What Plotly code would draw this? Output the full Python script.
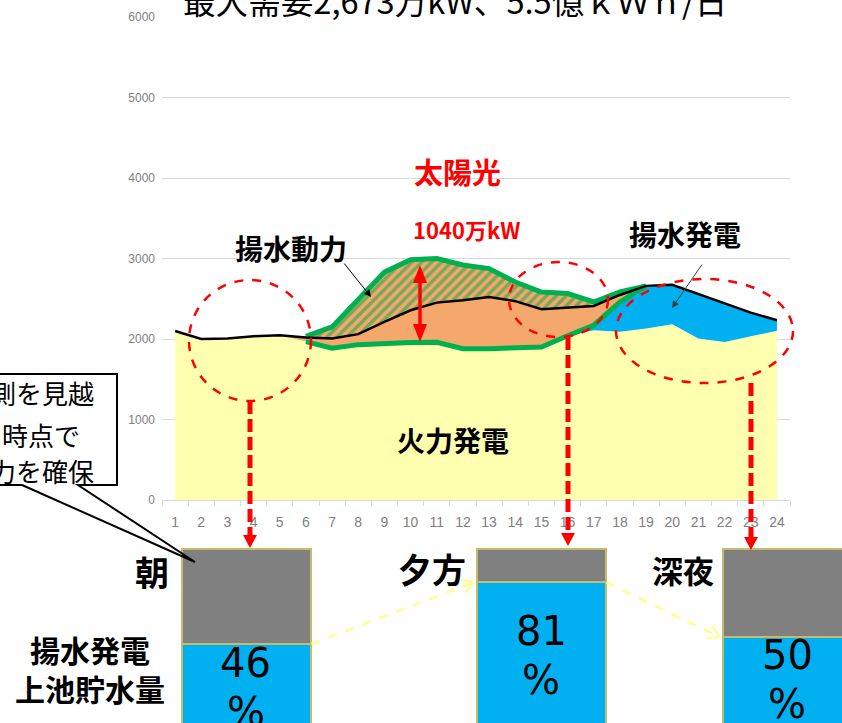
import math
import numpy as np
import plotly.graph_objects as go

W, H = 842, 723

# ---------------- data ----------------
hours = [str(h) for h in range(1, 25)]

# hourly demand and supply components (万kW)
demand = [2100, 2000, 2006, 2035, 2047, 2018, 2006, 2060, 2213, 2357, 2452, 2481,
          2522, 2470, 2370, 2390, 2411, 2547, 2660, 2673, 2561, 2447, 2328, 2233]
thermal = [2100, 2000, 2006, 2035, 2047, 1968, 1885, 1930, 1950, 1955, 1960, 1880,
           1880, 1890, 1900, 2040, 2109, 2089, 2130, 2184, 2006, 1964, 2035, 2101]
pumped_gen = [0, 0, 0, 0, 0, 0, 0, 0, 0, 0, 0, 0,
              0, 0, 0, 0, 62, 371, 530, 489, 555, 483, 293, 132]
solar = [0, 0, 0, 0, 0, 65, 265, 560, 880, 1030, 1040, 1040,
         994, 818, 684, 524, 289, 125, 0, 0, 0, 0, 0, 0]

y_ticks = [0, 1000, 2000, 3000, 4000, 5000, 6000]

# upper-reservoir level of the pumped storage plants (%)
periods = ["朝", "夕方", "深夜"]
reservoir_pct = [46, 81, 50]

daily_energy = "5.5億ｋＷｈ/日"

# ---------------- styling ----------------
YELLOW = "#ffffb0"
BLUE = "#00b0f0"
ORANGE = "#f5a86c"
GREEN = "#00b050"
GRAY = "#808080"
OLIVE = "#c4bc6c"
RED = "#ff0000"
PALE = "#ffff8c"
JP = "Noto Sans CJK JP"
NARROW = "Liberation Sans Narrow, Liberation Sans, sans-serif"
TICK = "#808080"


def px(x):
    return x / W


def py(y):
    return 1 - y / H


D = np.array(demand)
T = np.array(thermal)
G = np.array(pumped_gen)
S = np.array(solar)
base = T + G                       # bottom of the solar band
solar_used = np.clip(D - base, 0, S)
pumping = S - solar_used           # surplus solar absorbed by pumping
top = base + S

fig = go.Figure()

# stacked supply areas
fig.add_trace(go.Scatter(x=hours, y=T, stackgroup="s", mode="none",
                         fillcolor=YELLOW, name="火力発電"))
fig.add_trace(go.Scatter(x=hours, y=G, stackgroup="s", mode="none",
                         fillcolor=BLUE, name="揚水発電"))
fig.add_trace(go.Scatter(x=hours, y=solar_used, stackgroup="s", mode="none",
                         fillcolor=ORANGE, name="太陽光"))
fig.add_trace(go.Scatter(x=hours, y=pumping, stackgroup="s", mode="none",
                         fillcolor=ORANGE,
                         fillpattern=dict(shape="/", fgcolor="#00a84a", bgcolor=ORANGE,
                                          size=7, solidity=0.5),
                         name="揚水動力"))

# solar band outline
sl = slice(5, 19)
fig.add_trace(go.Scatter(x=hours[sl], y=top[sl], mode="lines",
                         line=dict(color=GREEN, width=5)))
fig.add_trace(go.Scatter(x=hours[sl], y=base[sl], mode="lines",
                         line=dict(color=GREEN, width=5)))
# demand
fig.add_trace(go.Scatter(x=hours, y=D, mode="lines",
                         line=dict(color="black", width=2.5)))

# reservoir level bars
BAR_TOP = 549          # pixel row of the 100 % level
BAR_PX = 1.76          # pixels per percent
bar_x = [246, 541, 787]
bar_w = 129
fig.add_trace(go.Bar(x=bar_x, y=reservoir_pct, width=bar_w, xaxis="x2", yaxis="y2",
                     marker=dict(color=BLUE, line=dict(color=OLIVE, width=2))))
fig.add_trace(go.Bar(x=bar_x, y=[100 - v for v in reservoir_pct], width=bar_w,
                     xaxis="x2", yaxis="y2",
                     marker=dict(color=GRAY, line=dict(color=OLIVE, width=2))))


def bar_py(v):
    return BAR_TOP + (100 - v) * BAR_PX


shapes = []
ann = []


def text(x, y, s, size, color="black", weight="normal", family=JP, xanchor="center"):
    ann.append(dict(x=px(x), y=py(y), xref="paper", yref="paper", text=s,
                    showarrow=False, xanchor=xanchor, yanchor="middle",
                    font=dict(size=size, color=color, family=family, weight=weight)))


# title (runs off the top edge)
text(455, -1, f"最大需要{max(demand):,}万kW、{daily_energy}", 32.6)

# chart labels
text(457, 171, "太陽光", 29, RED, "bold")
text(467, 229, f"{max(solar)}万kW", 22, RED, "bold")
text(291, 248, "揚水動力", 28, weight="bold")
text(685, 234, "揚水発電", 28, weight="bold")
text(453, 440, "火力発電", 28, weight="bold")

# pointer arrows for labels
ann.append(dict(x=px(371), y=py(297), xref="paper", yref="paper", text="",
                showarrow=True, ax=-28, ay=-35, arrowhead=2, arrowsize=1.4,
                arrowwidth=1, arrowcolor="black"))
ann.append(dict(x=px(672), y=py(308), xref="paper", yref="paper", text="",
                showarrow=True, ax=31, ay=-45, arrowhead=2, arrowsize=1.4,
                arrowwidth=1, arrowcolor="#404040"))

# solar peak double arrow
ax_ = 420
shapes.append(dict(type="line", xref="paper", yref="paper", x0=px(ax_), x1=px(ax_),
                   y0=py(280), y1=py(326), line=dict(color=RED, width=3.5)))
for tip, back in ((265, 283), (342, 324)):
    shapes.append(dict(type="path", xref="paper", yref="paper",
                       path=f"M {px(ax_)},{py(tip)} L {px(ax_-7)},{py(back)} "
                            f"L {px(ax_+7)},{py(back)} Z",
                       fillcolor=RED, line=dict(width=0)))

# dashed ellipses around the three periods
for x0, x1, y0, y1 in ((189, 311, 280, 401), (509, 608, 262, 337), (616, 793, 279, 383)):
    shapes.append(dict(type="circle", xref="paper", yref="paper",
                       x0=px(x0), x1=px(x1), y0=py(y1), y1=py(y0),
                       line=dict(color=RED, width=2.5, dash="dash")))

# dashed drop arrows to the reservoir bars
for x, y_start, y_tip in ((250, 401, 548), (568, 337, 546), (751, 383, 550)):
    shapes.append(dict(type="line", xref="paper", yref="paper", x0=px(x), x1=px(x),
                       y0=py(y_start), y1=py(y_tip - 12),
                       line=dict(color=RED, width=5, dash="13px,5px")))
    shapes.append(dict(type="path", xref="paper", yref="paper",
                       path=f"M {px(x-7)},{py(y_tip-13)} L {px(x+7)},{py(y_tip-13)} "
                            f"L {px(x)},{py(y_tip)} Z",
                       fillcolor=RED, line=dict(width=0)))

# pale connectors between reservoir levels
for i in range(2):
    xa, ya = bar_x[i] + bar_w / 2 + 1, bar_py(reservoir_pct[i])
    xb, yb = bar_x[i + 1] - bar_w / 2 - 3, bar_py(reservoir_pct[i + 1])
    shapes.append(dict(type="line", xref="paper", yref="paper",
                       x0=px(xa), y0=py(ya), x1=px(xb), y1=py(yb),
                       line=dict(color=PALE, width=2.5, dash="dash")))
    ang = math.atan2(yb - ya, xb - xa)
    for s in (1, -1):
        a = ang + math.pi - s * math.radians(32)
        shapes.append(dict(type="line", xref="paper", yref="paper",
                           x0=px(xb), y0=py(yb),
                           x1=px(xb + 13 * math.cos(a)), y1=py(yb + 13 * math.sin(a)),
                           line=dict(color=PALE, width=2)))

# period labels and bar captions
text(152, 571, periods[0], 34, weight="bold")
text(432, 568, periods[1], 34, weight="bold")
text(683, 569, periods[2], 31, weight="bold")
text(90, 668, "揚水発電<br>上池貯水量", 30, weight="bold")

label_y = [663, 631, 655]
for xb, v, ly in zip(bar_x, reservoir_pct, label_y):
    text(xb, ly, f"{v}", 40, family="DejaVu Sans")
    text(xb, ly + 49, "%", 40, family="DejaVu Sans")

# callout box on the left edge
shapes.append(dict(type="rect", xref="paper", yref="paper", x0=px(-5), x1=px(117),
                   y0=py(485), y1=py(374), fillcolor="white", line=dict(width=0)))
shapes.append(dict(type="path", xref="paper", yref="paper",
                   path=(f"M {px(22)},{py(485)} L {px(-5)},{py(485)} L {px(-5)},{py(374)} "
                         f"L {px(117)},{py(374)} L {px(117)},{py(485)} L {px(78)},{py(485)} "
                         f"L {px(195)},{py(562)} L {px(22)},{py(485)}"),
                   line=dict(color="black", width=2)))
text(-12, 392, "測を見越", 26, xanchor="left")
text(0, 434, "時点で", 26, xanchor="left")
text(-12, 470, "力を確保", 26, xanchor="left")

fig.update_layout(
    width=W, height=H,
    margin=dict(l=0, r=0, t=0, b=0, pad=0, autoexpand=False),
    paper_bgcolor="white", plot_bgcolor="rgba(0,0,0,0)",
    showlegend=False, barmode="stack",
    xaxis=dict(domain=[px(162), px(790)], type="category", anchor="y",
               range=[-0.5, 23.5], automargin=False,
               tickson="boundaries", ticks="outside", ticklen=5, tickcolor="#d9d9d9",
               showline=True, linecolor="#d9d9d9", showgrid=False,
               tickfont=dict(size=14, color=TICK, family=NARROW), ticklabelstandoff=9),
    yaxis=dict(domain=[py(500), py(17)], range=[0, 6000], anchor="x", automargin=False,
               tickvals=y_ticks, gridcolor="#d9d9d9", zeroline=False, showline=False,
               tickfont=dict(size=12, color=TICK, family=NARROW), ticklabelstandoff=6),
    xaxis2=dict(domain=[0, 1], range=[0, W], visible=False, anchor="y2", automargin=False),
    yaxis2=dict(domain=[0, (H - BAR_TOP + 3) / H],
                range=[100 - (H - BAR_TOP) / BAR_PX, 100 + 3 / BAR_PX],
                visible=False, anchor="x2", automargin=False),
    shapes=shapes,
    annotations=ann,
)

fig.write_html("out.html")
